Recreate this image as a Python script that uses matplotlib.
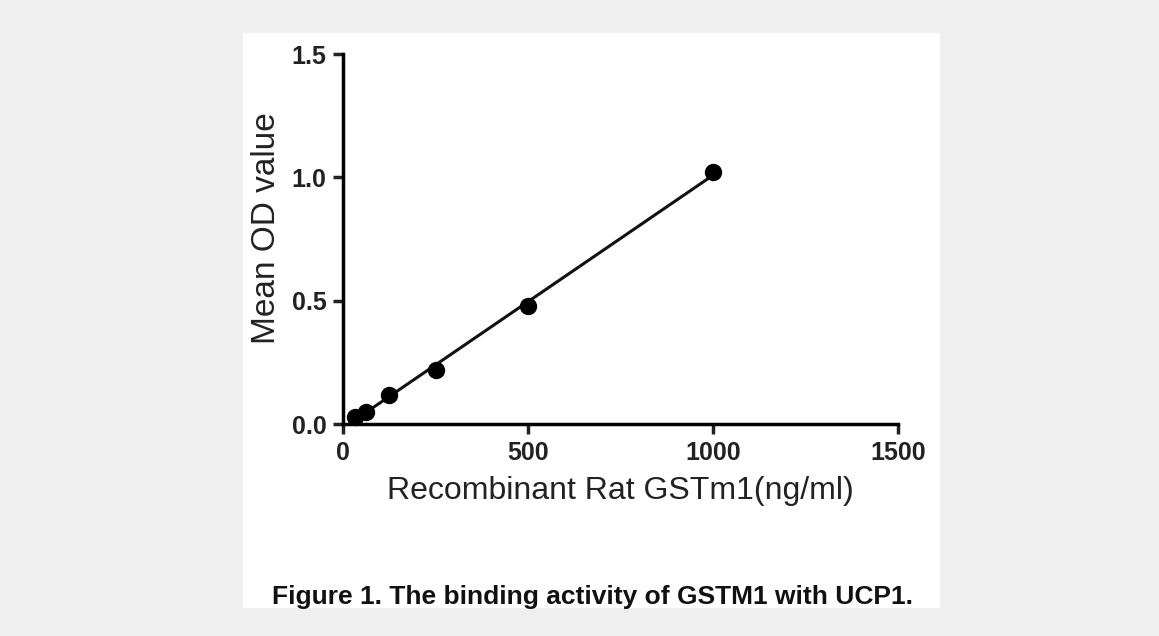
import numpy as np
import matplotlib.pyplot as plt
from matplotlib.patches import Rectangle

# concentration (ng/ml) and mean OD
conc = [31.25, 62.5, 125, 250, 500, 1000]
od = [0.03, 0.05, 0.118, 0.22, 0.48, 1.02]
x_ticks = [0, 500, 1000, 1500]
y_ticks = [0.0, 0.5, 1.0, 1.5]

plt.rcParams['font.family'] = ['Liberation Sans', 'DejaVu Sans']

fig = plt.figure(figsize=(11.59, 6.36), dpi=100, facecolor='#efefef')
fig.patches.append(Rectangle((243 / 1159, 1 - 608 / 636), (940 - 243) / 1159, (608 - 33) / 636,
                             transform=fig.transFigure, facecolor='white', edgecolor='none', zorder=-5))

ax = fig.add_axes([343 / 1159, 1 - 424 / 636, 555 / 1159, 370 / 636])
ax.patch.set_alpha(0)

# linear fit line
slope, intercept = np.polyfit(conc, od, 1)
xs = np.array([conc[0], conc[-1]])
ax.plot(xs, slope * xs + intercept, color='#111111', lw=2.2, zorder=2)
ax.plot(conc, od, 'o', color='black', markersize=11.5, zorder=3, clip_on=False)

ax.set_xlim(0, 1500)
ax.set_ylim(0, 1.5)
ax.set_xticks(x_ticks)
ax.set_yticks(y_ticks)
ax.set_yticklabels([f'{v:.1f}' for v in y_ticks])
for s in ['top', 'right']:
    ax.spines[s].set_visible(False)
for s in ['left', 'bottom']:
    ax.spines[s].set_linewidth(2.5)
ax.tick_params(width=2.5, length=7, labelsize=18, colors='#222222', pad=5)
for lab in ax.get_xticklabels() + ax.get_yticklabels():
    lab.set_fontweight('bold')
ax.set_xlabel('Recombinant Rat GSTm1(ng/ml)', fontsize=23, labelpad=8, color='#222222')
ax.set_ylabel('Mean OD value', fontsize=24, color='#222222', va='center')
ax.yaxis.set_label_coords(-0.138, 0.53)

fig.text(593 / 1159, 1 - 597 / 636, 'Figure 1. The binding activity of GSTM1 with UCP1.',
         ha='center', va='center', fontsize=19, fontweight='bold', color='#111111')

fig.savefig('out.png', dpi=100, facecolor=fig.get_facecolor())
